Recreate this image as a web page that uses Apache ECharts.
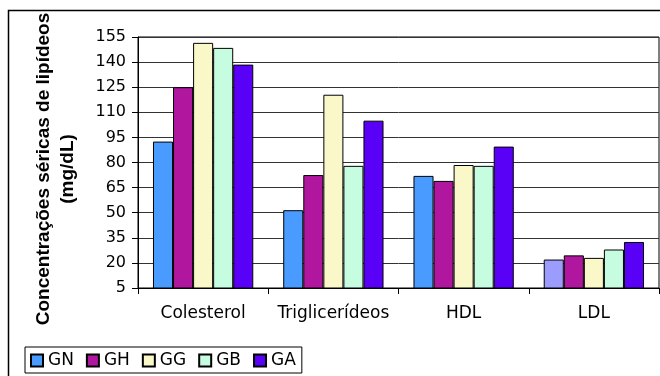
<!DOCTYPE html>
<html>
<head>
<meta charset="utf-8">
<script src="https://cdn.jsdelivr.net/npm/echarts@6/dist/echarts.min.js"></script>
<style>
html,body{margin:0;padding:0;background:#fff;}
#chart{width:660px;height:376px;}
</style>
</head>
<body>
<div id="chart"></div>
<script>
var categories = ['Colesterol', 'Triglicerídeos', 'HDL', 'LDL'];
var seriesNames = ['GN', 'GH', 'GG', 'GB', 'GA'];
var GN = [92.5, 51.5, 72, 22];
var GH = [125, 72.5, 69, 24.5];
var GG = [151.5, 120.5, 78.5, 23];
var GB = [148.5, 78, 78, 28];
var GA = [138.5, 105, 89.5, 32.5];
var yTicks = [5, 20, 35, 50, 65, 80, 95, 110, 125, 140, 155];

var colors = ['#4A9BFF', '#B1169F', '#FAF8C8', '#C6FCE0', '#5900F7'];
var ldlGNColor = '#9C9CFF';
var values = [GN, GH, GG, GB, GA];

var series = seriesNames.map(function (name, i) {
  return {
    name: name,
    type: 'bar',
    barGap: '0%',
    barCategoryGap: '23%',
    itemStyle: { color: colors[i], borderColor: '#000', borderWidth: 1 },
    data: values[i].map(function (v, j) {
      if (i === 0 && j === 3) {
        return { value: v, itemStyle: { color: ldlGNColor } };
      }
      return v;
    })
  };
});

var chart = echarts.init(document.getElementById('chart'));
chart.setOption({
  backgroundColor: '#fff',
  animation: false,
  color: colors,
  grid: { left: 138, right: 1, top: 37, bottom: 88, show: true, borderColor: '#000', borderWidth: 1, backgroundColor: 'transparent' },
  legend: {
    left: 25, top: 347,
    data: seriesNames,
    icon: 'rect',
    itemWidth: 12, itemHeight: 12, itemGap: 12,
    padding: [5, 6, 4, 5],
    borderColor: '#000', borderWidth: 1,
    textStyle: { fontFamily: 'DejaVu Sans', fontSize: 17, color: '#000' }
  },
  xAxis: {
    type: 'category',
    data: categories,
    axisLine: { lineStyle: { color: '#000', width: 1 } },
    axisTick: { show: true, length: 6, inside: false, interval: 0, lineStyle: { color: '#000' } },
    axisLabel: { interval: 0, fontFamily: 'DejaVu Sans', fontSize: 17, color: '#000', margin: 17 },
    splitLine: { show: false }
  },
  yAxis: {
    type: 'value',
    min: 5, max: 155,
    axisLine: { show: true, lineStyle: { color: '#000', width: 1 } },
    axisTick: { show: true, length: 6, customValues: yTicks, lineStyle: { color: '#000' } },
    axisLabel: { fontFamily: 'DejaVu Sans', fontSize: 16, color: '#000', margin: 12, customValues: yTicks },
    splitLine: { show: true, lineStyle: { color: '#333', width: 1 } }
  },
  graphic: [
    { type: 'rect', silent: true, shape: { x: 8.5, y: 10.5, width: 700, height: 400 }, style: { fill: 'none', stroke: '#000', lineWidth: 1.5 } },
    { type: 'text', x: 44, y: 169, rotation: Math.PI / 2, style: { text: 'Concentrações séricas de lipídeos', fontFamily: 'Liberation Sans', fontWeight: 'bold', fontSize: 19, fill: '#000', align: 'center', verticalAlign: 'middle' } },
    { type: 'text', x: 68, y: 169, rotation: Math.PI / 2, style: { text: '(mg/dL)', fontFamily: 'Liberation Sans', fontWeight: 'bold', fontSize: 19, fill: '#000', align: 'center', verticalAlign: 'middle' } }
  ],
  series: series
});
</script>
</body>
</html>
